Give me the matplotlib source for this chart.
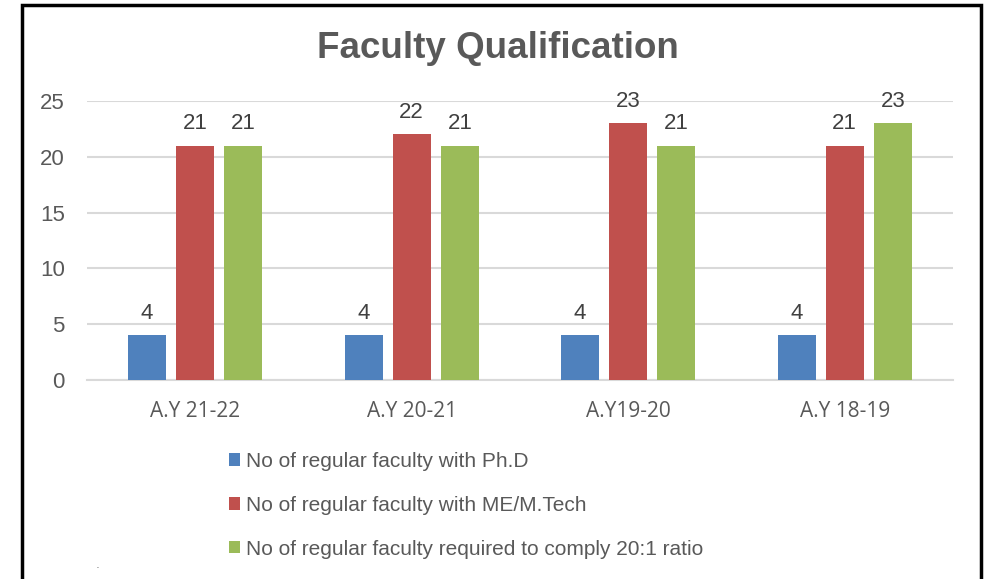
import matplotlib.pyplot as plt
import numpy as np
from matplotlib.patches import Rectangle, Patch

# Chart data
years = ['A.Y 21-22', 'A.Y 20-21', 'A.Y19-20', 'A.Y 18-19']
phd = [4, 4, 4, 4]
me_mtech = [21, 22, 23, 21]
required = [21, 21, 21, 23]
series_names = ['No of regular faculty with Ph.D',
                'No of regular faculty with ME/M.Tech',
                'No of regular faculty required to comply 20:1 ratio']
colors = ['#4F81BD', '#C0504D', '#9BBB59']

plt.rcParams['font.family'] = ['Liberation Sans', 'DejaVu Sans']

fig = plt.figure(figsize=(9.92, 5.79), dpi=100)
W, H = 992, 579
ax = fig.add_axes([87 / W, (H - 380) / H, 866 / W, 279 / H])

x = np.arange(len(years))
step = 0.2226
width = 0.1755
for i, vals in enumerate([phd, me_mtech, required]):
    pos = x + (i - 1) * step
    ax.bar(pos, vals, width, color=colors[i], zorder=3)
    for p, v in zip(pos, vals):
        ax.annotate(str(v), xy=(p, v), xytext=(0, 12), textcoords='offset points',
                    ha='center', va='baseline', fontsize=16, color='#404040')

ax.set_xlim(-0.5, len(years) - 0.5)
ax.set_ylim(0, 25)
ax.set_yticks([0, 5, 10, 15, 20, 25])
ax.yaxis.grid(True, color='#D9D9D9', linewidth=1.5, zorder=0)
for s in ['top', 'right', 'left']:
    ax.spines[s].set_visible(False)
ax.spines['bottom'].set_color('#D9D9D9')
ax.spines['bottom'].set_linewidth(1.5)
ax.tick_params(axis='both', length=0)
ax.tick_params(axis='y', labelsize=16, labelcolor='#595959', pad=16)
ax.set_xticks(x)
ax.set_xticklabels(years, fontsize=15, color='#595959', family='Open Sans')
ax.tick_params(axis='x', pad=15)

fig.text(498 / W, (H - 48) / H, 'Faculty Qualification', ha='center', va='center',
         fontsize=26.5, fontweight='bold', color='#595959')

handles = [Patch(facecolor=c, edgecolor='none') for c in colors]
fig.legend(handles, series_names, loc='upper left', bbox_to_anchor=(229 / W, (H - 452) / H),
           frameon=False, fontsize=15, labelcolor='#595959', handlelength=0.55,
           handleheight=0.55, handletextpad=0.28, labelspacing=1.19,
           borderpad=0, borderaxespad=0)

# outer chart border
fig.patches.append(Rectangle((22 / W, -0.05), (981 - 22) / W, (H - 5) / H + 0.05,
                             transform=fig.transFigure, fill=False, edgecolor='black',
                             linewidth=2.5))
fig.text(97 / W, (H - 566) / H, '.', fontsize=5, color='black', ha='center', va='center')

fig.savefig('out.png', dpi=100)
